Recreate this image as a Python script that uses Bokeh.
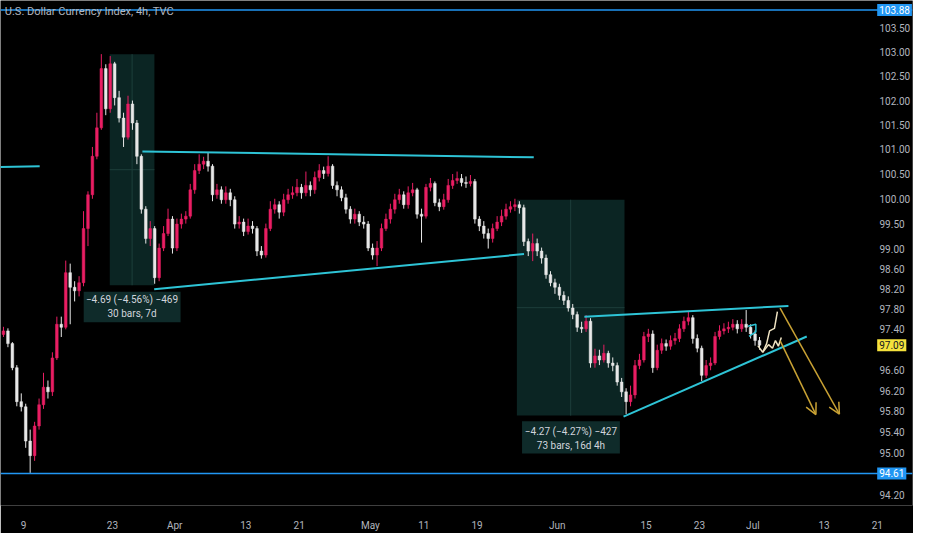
from bokeh.plotting import figure
from bokeh.models import (Range1d, FixedTicker, PrintfTickFormatter, Span, Label,
                          Arrow, OpenHead, ColumnDataSource)
from bokeh.embed import file_html
from bokeh.resources import INLINE
from bokeh.core.properties import value

# ---------------- data (DXY, half-day candles, time = trading-day index from Mar 9) ----------------
first_open = 97.30
closes = [97.37, 97.12, 96.65, 95.99, 95.89, 95.23, 94.95, 95.52, 95.93, 96.27,
          96.18, 96.84, 97.50, 97.44, 98.52, 98.23, 98.16, 98.32, 99.40, 100.08,
          100.86, 101.44, 102.66, 101.83, 102.76, 102.06, 101.64, 101.25, 101.93, 101.54,
          100.86, 99.79, 99.20, 99.40, 98.42, 99.01, 99.30, 99.59, 99.01, 99.49,
          99.59, 99.65, 100.18, 100.57, 100.70, 100.76, 100.66, 100.08, 100.18, 99.98,
          100.12, 99.98, 99.49, 99.53, 99.34, 99.45, 99.40, 98.95, 98.87, 99.40,
          99.79, 99.88, 99.73, 99.98, 100.08, 100.12, 100.23, 100.12, 100.27, 100.18,
          100.43, 100.57, 100.51, 100.66, 100.27, 100.18, 100.02, 99.79, 99.59, 99.69,
          99.53, 99.49, 99.01, 98.87, 99.01, 99.40, 99.59, 99.79, 99.98, 100.08,
          99.88, 100.12, 100.18, 99.69, 99.65, 100.23, 100.31, 99.92, 99.84, 99.98,
          100.27, 100.37, 100.41, 100.33, 100.31, 100.35, 99.59, 99.45, 99.30, 99.20,
          99.40, 99.53, 99.65, 99.79, 99.84, 99.88, 99.82, 99.14, 98.95, 99.10,
          98.95, 98.81, 98.48, 98.32, 98.23, 98.07, 97.97, 97.82, 97.69, 97.44,
          97.41, 97.56, 96.74, 96.88, 96.80, 96.93, 96.74, 96.69, 96.37, 96.18,
          95.99, 96.12, 96.69, 96.80, 97.26, 97.31, 96.65, 96.99, 97.12, 97.07,
          97.18, 97.22, 97.41, 97.56, 97.63, 97.22, 97.03, 96.50, 96.69, 96.74,
          97.26, 97.37, 97.41, 97.44, 97.50, 97.41, 97.50, 97.44, 97.31, 97.18,
          97.09]
highs = [97.45, 97.42, 97.15, 96.70, 96.15, 95.95, 95.45, 95.60, 96.05, 96.55,
         96.40, 96.95, 97.65, 97.65, 98.76, 98.70, 98.35, 98.45, 99.75, 100.15,
         101.05, 101.75, 102.96, 102.75, 102.92, 102.80, 102.20, 101.75, 102.10, 102.00,
         101.60, 100.90, 99.85, 99.55, 99.45, 99.10, 99.45, 99.80, 99.65, 99.60,
         99.70, 99.75, 100.30, 100.70, 100.90, 100.85, 100.93, 100.70, 100.30, 100.25,
         100.25, 100.20, 100.05, 99.65, 99.60, 99.60, 99.55, 99.45, 99.05, 99.50,
         99.95, 100.00, 99.95, 100.10, 100.20, 100.25, 100.40, 100.30, 100.55, 100.35,
         100.55, 100.70, 100.65, 100.86, 100.70, 100.35, 100.25, 100.10, 99.85, 99.80,
         99.75, 99.65, 99.55, 99.10, 99.15, 99.50, 99.70, 99.90, 100.10, 100.20,
         100.15, 100.25, 100.32, 100.22, 99.80, 100.30, 100.42, 100.35, 100.00, 100.10,
         100.40, 100.50, 100.55, 100.50, 100.45, 100.48, 100.40, 99.65, 99.55, 99.40,
         99.50, 99.65, 99.78, 99.90, 99.95, 100.00, 99.95, 99.88, 99.20, 99.30,
         99.20, 99.02, 98.88, 98.55, 98.40, 98.30, 98.15, 98.05, 97.90, 97.75,
         97.55, 97.68, 97.62, 97.02, 97.00, 97.10, 96.98, 96.85, 96.75, 96.45,
         96.25, 96.30, 96.80, 96.92, 97.35, 97.41, 97.38, 97.10, 97.22, 97.20,
         97.28, 97.33, 97.50, 97.65, 97.75, 97.68, 97.30, 97.08, 96.80, 96.85,
         97.35, 97.48, 97.52, 97.55, 97.60, 97.58, 97.60, 97.78, 97.50, 97.38,
         97.25]
lows = [97.25, 97.05, 96.60, 95.90, 95.80, 95.10, 94.62, 94.85, 95.45, 95.85,
        96.05, 96.10, 96.80, 97.25, 97.40, 97.50, 97.95, 98.05, 98.25, 99.05,
        100.00, 100.80, 101.40, 101.70, 101.75, 101.90, 101.55, 101.05, 101.20, 101.40,
        100.70, 99.70, 99.10, 99.05, 98.30, 98.35, 98.95, 99.25, 98.90, 98.95,
        99.40, 99.50, 99.60, 100.10, 100.50, 100.60, 100.55, 99.95, 100.00, 99.90,
        99.90, 99.85, 99.40, 99.40, 99.25, 99.28, 99.30, 98.85, 98.80, 98.82,
        99.35, 99.70, 99.60, 99.65, 99.90, 100.00, 100.05, 100.00, 100.05, 100.05,
        100.10, 100.35, 100.40, 100.45, 100.20, 100.05, 99.95, 99.70, 99.50, 99.50,
        99.45, 99.40, 98.95, 98.78, 98.65, 98.95, 99.35, 99.50, 99.70, 99.90,
        99.80, 99.80, 100.05, 99.60, 99.12, 99.60, 100.15, 99.85, 99.75, 99.78,
        99.92, 100.20, 100.30, 100.25, 100.22, 100.25, 99.50, 99.35, 99.20, 99.00,
        99.12, 99.35, 99.45, 99.58, 99.72, 99.75, 99.70, 99.05, 98.85, 98.75,
        98.85, 98.70, 98.40, 98.25, 98.10, 97.98, 97.88, 97.75, 97.60, 97.35,
        97.33, 97.35, 96.65, 96.65, 96.70, 96.75, 96.65, 96.58, 96.30, 96.08,
        95.75, 95.90, 96.05, 96.62, 96.75, 97.15, 96.55, 96.60, 96.92, 96.98,
        97.00, 97.10, 97.15, 97.35, 97.48, 97.12, 96.95, 96.39, 96.45, 96.60,
        96.70, 97.20, 97.30, 97.33, 97.38, 97.32, 97.35, 97.35, 97.22, 97.08,
        97.00]
first_bar_day = -2.25     # trading-day index of first half-day bar
bar_step_days = 0.5

# time axis tick labels (trading-day index -> label)
x_tick_days = [0, 10, 17, 25, 31, 39, 45, 51, 60, 70, 76, 82, 90, 96]
x_tick_labels = ["9", "23", "Apr", "13", "21", "May", "11", "19", "Jun", "15", "23", "Jul", "13", "21"]
y_ticks = [94.2, 95.0, 95.4, 95.8, 96.2, 96.6, 97.4, 97.8, 98.2, 98.6,
           99.0, 99.5, 100.0, 100.5, 101.0, 101.5, 102.0, 102.5, 103.0, 103.5]

# horizontal levels
level_high = 103.88
level_low = 94.61
last_price = 97.09

# cyan trend lines: (day0, price0, day1, price1)
trend_lines = [
    (-2.6, 100.64, 1.82, 100.66),
    (13.37, 100.96, 57.37, 100.84),
    (14.69, 98.19, 56.27, 98.89),
    (63.06, 97.65, 86.0, 97.86),
    (67.46, 95.70, 88.06, 97.26),
]
small_mark_days = [81.46, 82.34, 82.34, 81.57]
small_mark_prices = [97.46, 97.50, 97.35, 97.26]

# projected paths (cream)
path1_days = [82.56, 83.11, 83.55, 83.88, 84.43, 84.76]
path1_prices = [97.08, 96.95, 97.12, 97.37, 97.42, 97.75]
path2_days = [83.11, 83.77, 84.21, 84.54, 84.87, 85.20]
path2_prices = [96.95, 97.10, 97.03, 97.18, 97.07, 97.24]

# gold arrows
arrows = [(85.06, 97.18, 89.09, 95.74), (85.06, 97.82, 91.73, 95.75)]

# measurement boxes: (day0, day1, price_top, price_bottom)
measure_boxes = [(9.70, 14.72, 102.96, 98.27), (55.47, 67.57, 99.98, 95.72)]
measure_label_boxes = [(6.77, 17.66, 98.14, 97.54), (56.05, 67.05, 95.61, 94.99)]
measure_text_x = [12.2, 61.55]
measure_line1_y = [97.99, 95.42]
measure_line2_y = [97.71, 95.14]
measure_line1 = ["\u22124.69 (\u22124.56%) \u2212469", "\u22124.27 (\u22124.27%) \u2212427"]
measure_line2 = ["30 bars, 7d", "73 bars, 16d 4h"]

title_text = "U.S. Dollar Currency Index, 4h, TVC"

# ---------------- styles ----------------
PINK = "#e91e63"
WHITE = "#e8e8e8"
CYAN = "#2ec4d6"
BLUE = "#2196f3"
GOLD = "#c9a234"
CREAM = "#efe3c2"
AXIS_TXT = "#b2b5be"
FONT = "Roboto"
FRAME_W = 912
FRAME_H = 505
TAG_DAY = 95.98   # left edge of the price tags, in the price-scale strip of the frame

p = figure(frame_width=FRAME_W, frame_height=FRAME_H, y_axis_type="log", y_axis_location="right",
           x_range=Range1d(-2.585, 99.95), y_range=Range1d(94.0, 104.08),
           output_backend="svg", toolbar_location=None)
p.background_fill_color = "#000000"
p.border_fill_color = "#000000"
p.outline_line_color = None
p.grid.visible = False
p.min_border_left = 0
p.min_border_top = 0
p.min_border_right = 0
p.min_border_bottom = 0

# axes
p.xaxis.ticker = FixedTicker(ticks=x_tick_days)
p.xaxis.major_label_overrides = {d: l for d, l in zip(x_tick_days, x_tick_labels)}
p.yaxis.ticker = FixedTicker(ticks=y_ticks)
p.yaxis.formatter = PrintfTickFormatter(format="%.2f")
for ax in (p.xaxis, p.yaxis):
    ax.axis_line_color = None
    ax.major_tick_line_color = None
    ax.minor_tick_line_color = None
    ax.major_tick_out = 0
    ax.minor_tick_out = 0
    ax.major_tick_in = 0
    ax.minor_tick_in = 0
    ax.major_label_text_color = AXIS_TXT
    ax.major_label_text_font_size = "10px"
    ax.major_label_text_font = FONT
p.xaxis.major_label_standoff = 14
p.yaxis.major_label_standoff = -33

# measurement boxes (behind candles)
for (d0, d1, pt, pb) in measure_boxes:
    p.quad(left=d0, right=d1, top=pt, bottom=pb, fill_color="#0b2523", line_color=None)
    mid_d = (d0 + d1) / 2
    mid_p = (pt * pb) ** 0.5
    p.line([mid_d, mid_d], [pb, pt], line_color="#1d3e3b", line_width=1)
    p.line([d0, d1], [mid_p, mid_p], line_color="#1d3e3b", line_width=1)
for (d0, d1, pt, pb) in measure_label_boxes:
    p.quad(left=d0, right=d1, top=pt, bottom=pb, fill_color="#0f2b2a", line_color=None)
p.text(x=measure_text_x + measure_text_x, y=measure_line1_y + measure_line2_y,
       text=measure_line1 + measure_line2, text_font=value(FONT), text_font_size="10px",
       text_color="#d1d4dc", text_align="center", text_baseline="middle")

# levels
p.add_layout(Span(location=level_high, dimension="width", line_color=BLUE, line_width=1.5))
p.add_layout(Span(location=level_low, dimension="width", line_color=BLUE, line_width=1.5))

# candles
n = len(closes)
opens = [first_open] + closes[:-1]
days = [first_bar_day + bar_step_days * k for k in range(n)]
colors = [PINK if c >= o else WHITE for o, c in zip(opens, closes)]
src = ColumnDataSource(dict(x=days, o=opens, c=closes, h=highs, l=lows,
                            top=[max(o, c) for o, c in zip(opens, closes)],
                            bot=[min(o, c) for o, c in zip(opens, closes)], col=colors))
p.segment(x0="x", y0="l", x1="x", y1="h", line_color="col", line_width=1, source=src)
p.vbar(x="x", width=0.3, top="top", bottom="bot", fill_color="col", line_color="col",
       line_width=0.5, source=src)

# trend lines
for (d0, p0, d1, p1) in trend_lines:
    p.line([d0, d1], [p0, p1], line_color=CYAN, line_width=2)
p.line(small_mark_days, small_mark_prices, line_color=CYAN, line_width=1.5)

# projected paths
p.line(path1_days, path1_prices, line_color=CREAM, line_width=1.5)
p.line(path2_days, path2_prices, line_color=CREAM, line_width=1.5)

# arrows
for (d0, p0, d1, p1) in arrows:
    p.add_layout(Arrow(end=OpenHead(size=11, line_color=GOLD, line_width=1.5),
                       x_start=d0, y_start=p0, x_end=d1, y_end=p1,
                       line_color=GOLD, line_width=1.5))

# title
p.add_layout(Label(x=-2.1, y=103.84, text=title_text, text_color=AXIS_TXT,
                   text_font=FONT, text_font_size="11px", text_baseline="middle"))

# price tags on the scale strip
for price, bg, fg in [(level_high, BLUE, "#ffffff"), (level_low, BLUE, "#ffffff"),
                      (last_price, "#f5e23c", "#131722")]:
    p.add_layout(Label(x=TAG_DAY, y=price, text=f"{price:.2f}",
                       text_color=fg, text_font=FONT, text_font_size="10px",
                       text_baseline="middle", background_fill_color=bg, padding=2))

open("out.html", "w").write(file_html(p, INLINE))
